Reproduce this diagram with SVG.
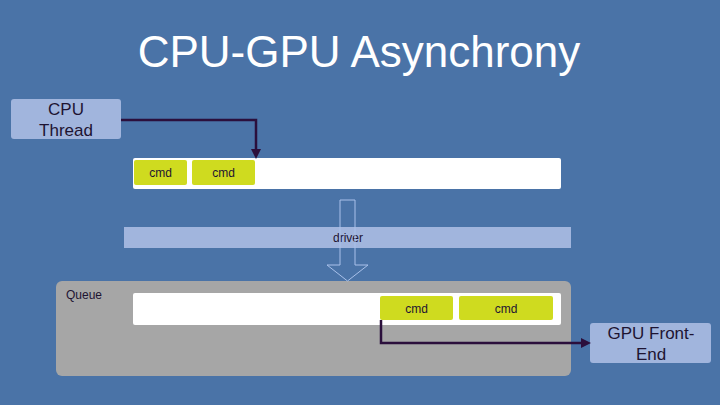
<svg xmlns="http://www.w3.org/2000/svg" width="720" height="405" viewBox="0 0 720 405">
<style>
.lbl{font-family:"Liberation Sans",Arial,sans-serif;fill:#1e1432}
.box{fill:#a1b5dd}
.cmd{fill:#cfdb1f}
.wire{fill:none;stroke:#2b0f3c;stroke-width:2.5}
</style>
<defs>
<marker id="ah" markerWidth="10" markerHeight="10" refX="6" refY="5" orient="auto" markerUnits="userSpaceOnUse">
<path d="M0,0 L10,5 L0,10 Z" fill="#2b0f3c"/>
</marker>
</defs>
<rect width="720" height="405" fill="#4a73a7"/>
<text x="359" y="67" text-anchor="middle" font-family="Liberation Sans,Arial,sans-serif" font-size="44" fill="#ffffff">CPU-GPU Asynchrony</text>

<g id="queue">
<rect x="56" y="281" width="515" height="95" rx="6" fill="#a6a6a6"/>
<text class="lbl" x="66" y="299" font-size="12">Queue</text>
<rect x="133" y="293" width="428" height="32" rx="2" fill="#ffffff"/>
</g>

<g id="driver">
<rect class="box" x="124" y="227" width="447" height="21"/>
<text class="lbl" x="333" y="242" font-size="12">driver</text>
</g>

<g id="flow-arrow">
<path d="M340,200 L355,200 L355,265 L368,265 L347.5,281 L327,265 L340,265 Z" fill="none" stroke="#a9c1ea" stroke-width="1"/>
</g>

<g id="cpu-thread">
<rect class="box" x="11" y="99" width="110" height="40" rx="3"/>
<text class="lbl" x="66" y="115" font-size="17" text-anchor="middle">CPU</text>
<text class="lbl" x="66" y="136" font-size="17" text-anchor="middle">Thread</text>
</g>

<g id="cmd-buffer">
<rect x="133" y="158" width="428" height="31" rx="2" fill="#ffffff"/>
</g>
<g id="cmd1"><rect class="cmd" x="134" y="160" width="53" height="25" rx="2"/><text class="lbl" x="160.5" y="177" font-size="12" text-anchor="middle">cmd</text></g>
<g id="cmd2"><rect class="cmd" x="192" y="160" width="63" height="25" rx="2"/><text class="lbl" x="223.5" y="177" font-size="12" text-anchor="middle">cmd</text></g>
<g id="cmd3"><rect class="cmd" x="380" y="296" width="73" height="24" rx="2"/><text class="lbl" x="416.5" y="313" font-size="12" text-anchor="middle">cmd</text></g>
<g id="cmd4"><rect class="cmd" x="459" y="296" width="94" height="24" rx="2"/><text class="lbl" x="506" y="313" font-size="12" text-anchor="middle">cmd</text></g>

<g id="gpu-front-end">
<rect class="box" x="590" y="323" width="121" height="40" rx="3"/>
<text class="lbl" x="651" y="339" font-size="17" text-anchor="middle">GPU Front-</text>
<text class="lbl" x="651" y="360" font-size="17" text-anchor="middle">End</text>
</g>

<g id="connectors">
<path class="wire" d="M121,120 L256,120 L256,155" marker-end="url(#ah)"/>
<path class="wire" d="M381,320 L381,343 L587,343" marker-end="url(#ah)"/>
</g>
</svg>
